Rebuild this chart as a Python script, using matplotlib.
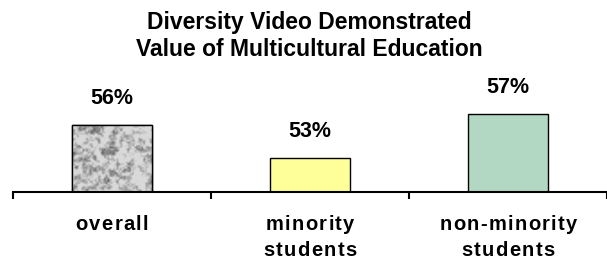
import numpy as np
import matplotlib
matplotlib.use('Agg')
from matplotlib import pyplot as plt
from matplotlib.font_manager import findfont, FontProperties
from matplotlib.ft2font import FT2Font
from matplotlib.transforms import IdentityTransform

plt.rcParams['font.family'] = ['Liberation Sans', 'DejaVu Sans']

categories = ['overall', 'minority\nstudents', 'non-minority\nstudents']
values = [56, 53, 57]
labels = ['56%', '53%', '57%']
colors = [None, '#FFFF99', '#B2D8C4']
title = 'Diversity Video Demonstrated\nValue of Multicultural Education'

DPI = 100


def hash_noise(h, w, seed):
    yy, xx = np.mgrid[0:h, 0:w]
    n = np.sin(xx * 12.9898 + yy * 78.233 + seed * 37.719) * 43758.5453
    return n - np.floor(n)


def upsample(a, h, w):
    # bilinear resize of a small grid to (h, w)
    ys = np.linspace(0, a.shape[0] - 1, h)
    xs = np.linspace(0, a.shape[1] - 1, w)
    tmp = np.array([np.interp(xs, np.arange(a.shape[1]), r) for r in a])
    return np.array([np.interp(ys, np.arange(a.shape[0]), c) for c in tmp.T]).T


def granite(h, w):
    coarse = upsample(hash_noise(9, 10, 1), h, w)
    mid = upsample(hash_noise(20, 22, 2), h, w)
    fine = upsample(hash_noise(40, 45, 3), h, w)
    n = 0.25 * coarse + 0.45 * mid + 0.3 * fine
    n = (n - n.min()) / (n.max() - n.min())
    dark = np.clip((n - 0.35) / 0.65, 0, 1) ** 1.1
    return 0.85 - 0.5 * dark


def spaced_text(fig, cx, y, s, size, gap):
    # draw a centred line with extra letter spacing (pixel coords)
    prop = FontProperties(family='Liberation Sans', weight='bold', size=size)
    font = FT2Font(findfont(prop))
    font.set_size(size, DPI)
    adv = [font.load_char(ord(c)).linearHoriAdvance / 65536.0 for c in s]
    total = sum(adv) + gap * (len(s) - 1)
    pen = cx - total / 2.0
    for c, a in zip(s, adv):
        fig.text(pen + a / 2.0, y, c, transform=IdentityTransform(),
                 ha='center', va='baseline', fontproperties=prop)
        pen += a + gap


W, H = 607, 261
fig = plt.figure(figsize=(W / DPI, H / DPI), dpi=DPI)
ax_bottom = H - 191.5
ax = fig.add_axes([13 / W, ax_bottom / H, 594 / W, 110 / H])

x = np.arange(len(categories))
ymin = 49.95
bars = ax.bar(x, [v - ymin for v in values], bottom=ymin, width=0.4,
              color=[c if c else '#BBBBBB' for c in colors],
              edgecolor='black', linewidth=1.0, zorder=2)

# granite texture for the "overall" bar
b = bars[0]
img = ax.imshow(granite(70, 80), cmap='gray', vmin=0, vmax=1,
                extent=(b.get_x(), b.get_x() + b.get_width(), ymin, values[0]),
                aspect='auto', interpolation='bilinear', zorder=2.5)
img.set_clip_path(b)
ax.bar(x[0], values[0] - ymin, bottom=ymin, width=0.4, fill=False,
       edgecolor='black', linewidth=1.0, zorder=3)

for xi, v, lab in zip(x, values, labels):
    ax.annotate(lab, (xi, v), xytext=(0, 26), textcoords='offset pixels',
                ha='center', va='center', fontsize=15.5, fontweight='bold')

ax.set_xlim(-0.5, 2.5)
ax.set_ylim(ymin, ymin + 110 / 11.0)
ax.set_yticks([])
ax.set_xticks([-0.5, 0.5, 1.5, 2.5])
ax.set_xticklabels([])
ax.tick_params(axis='x', length=5, width=1.5, direction='out', colors='black')
for s in ['top', 'right', 'left']:
    ax.spines[s].set_visible(False)
ax.spines['bottom'].set_linewidth(1.5)
ax.spines['bottom'].set_zorder(4)

fig.canvas.draw()
for xi, cat in zip(x, categories):
    cx = ax.transData.transform((xi, ymin))[0]
    for k, line in enumerate(cat.split('\n')):
        spaced_text(fig, cx, H - 230 - 26 * k, line, 14.5, 1.3)

fig.text(0.51, 1 - 36 / H, title, ha='center', va='center',
         fontsize=16.5, fontweight='bold', linespacing=1.2)

fig.savefig('out.png', dpi=DPI)
